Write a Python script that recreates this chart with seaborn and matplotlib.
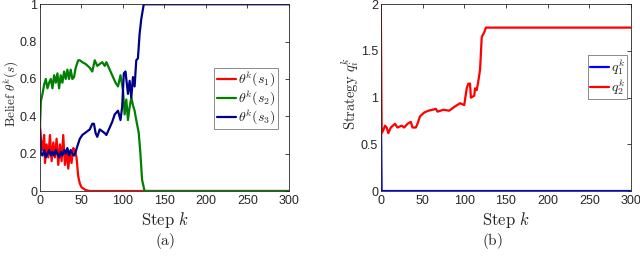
"""
Belief evolution (a) and strategy evolution (b) over steps k.
"""
import matplotlib
matplotlib.use("Agg")
import matplotlib.pyplot as plt
import seaborn as sns
import pandas as pd

# --- Datos ---

# (a) belief for s1
k_s1 = [0, 1, 3, 5, 6, 8, 10, 12, 14, 16, 18, 20, 22, 24, 26, 28, 30, 32, 34, 36,
        38, 40, 42, 44, 46, 48, 50, 55, 60, 300]
theta_s1 = [0.35, 0.28, 0.22, 0.30, 0.15, 0.25, 0.18, 0.30, 0.16, 0.26, 0.18, 0.28,
            0.14, 0.25, 0.16, 0.30, 0.14, 0.22, 0.12, 0.20, 0.15, 0.23, 0.22, 0.18,
            0.08, 0.04, 0.02, 0.005, 0.0, 0.0]

# (a) belief for s2
k_s2 = [0, 1, 3, 5, 7, 9, 11, 13, 15, 17, 19, 21, 23, 25, 27, 29, 31, 33, 35, 37,
        39, 41, 43, 46, 48, 51, 55, 60, 63, 66, 69, 72, 75, 78, 80, 84, 88, 91, 94,
        97, 100, 102, 104, 106, 108, 110, 112, 114, 116, 119, 121, 123, 126, 300]
theta_s2 = [0.35, 0.48, 0.52, 0.57, 0.60, 0.55, 0.58, 0.60, 0.55, 0.62, 0.58, 0.63,
            0.55, 0.62, 0.58, 0.64, 0.60, 0.65, 0.60, 0.65, 0.60, 0.61, 0.66, 0.70,
            0.70, 0.69, 0.68, 0.66, 0.64, 0.70, 0.67, 0.68, 0.69, 0.67, 0.69, 0.65,
            0.61, 0.58, 0.56, 0.62, 0.54, 0.41, 0.49, 0.38, 0.45, 0.50, 0.46, 0.43,
            0.38, 0.31, 0.20, 0.06, 0.0, 0.0]

# (a) belief for s3
k_s3 = [0, 1, 3, 5, 7, 9, 11, 13, 15, 17, 19, 21, 23, 25, 27, 29, 31, 33, 35, 37,
        39, 41, 43, 45, 48, 51, 54, 57, 60, 63, 65, 67, 69, 72, 75, 78, 80, 84, 87,
        90, 94, 97, 99, 101, 103, 106, 108, 110, 112, 114, 116, 118, 120, 122, 125, 300]
theta_s3 = [0.33, 0.20, 0.19, 0.22, 0.18, 0.20, 0.22, 0.19, 0.21, 0.19, 0.22, 0.20,
            0.18, 0.21, 0.19, 0.22, 0.20, 0.23, 0.19, 0.22, 0.20, 0.19, 0.21, 0.24,
            0.28, 0.30, 0.31, 0.32, 0.33, 0.36, 0.36, 0.31, 0.29, 0.33, 0.32, 0.31,
            0.30, 0.34, 0.37, 0.41, 0.43, 0.38, 0.45, 0.63, 0.64, 0.52, 0.59, 0.50,
            0.61, 0.56, 0.70, 0.71, 0.84, 0.92, 1.0, 1.0]

# (b) strategies
k_q1 = [0, 1, 300]
q1 = [1.0, 0.0, 0.0]

k_q2 = [0, 1, 3, 5, 7, 9, 12, 17, 20, 25, 28, 32, 36, 38, 42, 44, 47, 52, 57, 62,
        66, 68, 75, 82, 88, 95, 100, 103, 105, 107, 108, 112, 113, 115, 117, 119,
        121, 124, 126, 300]
q2 = [2.0, 0.62, 0.65, 0.70, 0.68, 0.62, 0.68, 0.72, 0.68, 0.70, 0.68, 0.72, 0.74,
      0.68, 0.68, 0.72, 0.80, 0.84, 0.86, 0.87, 0.88, 0.85, 0.87, 0.86, 0.90, 0.94,
      0.92, 1.10, 1.15, 1.15, 1.00, 1.02, 1.10, 1.08, 1.18, 1.30, 1.65, 1.70, 1.75, 1.75]

# --- Estilo ---
sns.set_style("white")
plt.rcParams["font.family"] = ["Liberation Sans", "DejaVu Sans"]
plt.rcParams["mathtext.fontset"] = "cm"

TICK_COLOR = "#262626"

fig = plt.figure(figsize=(6.4, 2.59), dpi=100)
ax1 = fig.add_axes([0.0625, 0.2625, 0.389, 0.721])
ax2 = fig.add_axes([0.595, 0.2625, 0.391, 0.721])


def style_axes(ax):
    for sp in ax.spines.values():
        sp.set_color(TICK_COLOR)
        sp.set_linewidth(0.6)
    ax.tick_params(direction="in", length=3, width=0.6, labelsize=9,
                   colors=TICK_COLOR, top=True, right=True, pad=3)
    ax.tick_params(axis="y", pad=2)


def make_legend(ax, anchor):
    leg = ax.legend(loc="center right", bbox_to_anchor=anchor, fontsize=10,
                    frameon=True, fancybox=False, handlelength=1.4, handletextpad=0.15,
                    borderpad=0.15, labelspacing=0.0, borderaxespad=0)
    leg.get_frame().set_edgecolor("#555555")
    leg.get_frame().set_linewidth(0.6)
    return leg


# (a)
series_a = [
    (k_s1, theta_s1, "#ff0000", r"$\theta^k(s_1)$"),
    (k_s2, theta_s2, "#008000", r"$\theta^k(s_2)$"),
    (k_s3, theta_s3, "#00008b", r"$\theta^k(s_3)$"),
]
for kk, vv, col, lab in series_a:
    df = pd.DataFrame({"k": kk, "v": vv})
    sns.lineplot(data=df, x="k", y="v", color=col, label=lab, lw=1.6,
                 estimator=None, ax=ax1)
ax1.set_xlim(0, 300)
ax1.set_ylim(0, 1)
ax1.set_xticks([0, 50, 100, 150, 200, 250, 300])
ax1.set_yticks([0, 0.2, 0.4, 0.6, 0.8, 1])
ax1.set_yticklabels(["0", "0.2", "0.4", "0.6", "0.8", "1"])
ax1.set_xlabel(r"$\mathrm{Step}\ k$", fontsize=12, labelpad=2)
ax1.set_ylabel(r"$\mathrm{Belief}\ \theta^k(s)$", fontsize=9.5)
ax1.yaxis.set_label_coords(-0.082, 0.52)
style_axes(ax1)
make_legend(ax1, (0.955, 0.495))

# (b)
series_b = [
    (k_q1, q1, "#0000ff", r"$q_1^k$"),
    (k_q2, q2, "#ff0000", r"$q_2^k$"),
]
for kk, vv, col, lab in series_b:
    df = pd.DataFrame({"k": kk, "v": vv})
    sns.lineplot(data=df, x="k", y="v", color=col, label=lab, lw=1.6,
                 estimator=None, ax=ax2)
ax2.set_xlim(0, 300)
ax2.set_ylim(0, 2)
ax2.set_xticks([0, 50, 100, 150, 200, 250, 300])
ax2.set_yticks([0, 0.5, 1, 1.5, 2])
ax2.set_yticklabels(["0", "0.5", "1", "1.5", "2"])
ax2.set_xlabel(r"$\mathrm{Step}\ k$", fontsize=12, labelpad=2)
ax2.set_ylabel(r"$\mathrm{Strategy}\ q_i^k$", fontsize=10.5)
ax2.yaxis.set_label_coords(-0.08, 0.52)
style_axes(ax2)
make_legend(ax2, (0.985, 0.61))

fig.text(0.258, 0.07, r"$\mathrm{(a)}$", ha="center", va="center", fontsize=11)
fig.text(0.77, 0.07, r"$\mathrm{(b)}$", ha="center", va="center", fontsize=11)

fig.savefig("out.png", dpi=100)
plt.close(fig)
